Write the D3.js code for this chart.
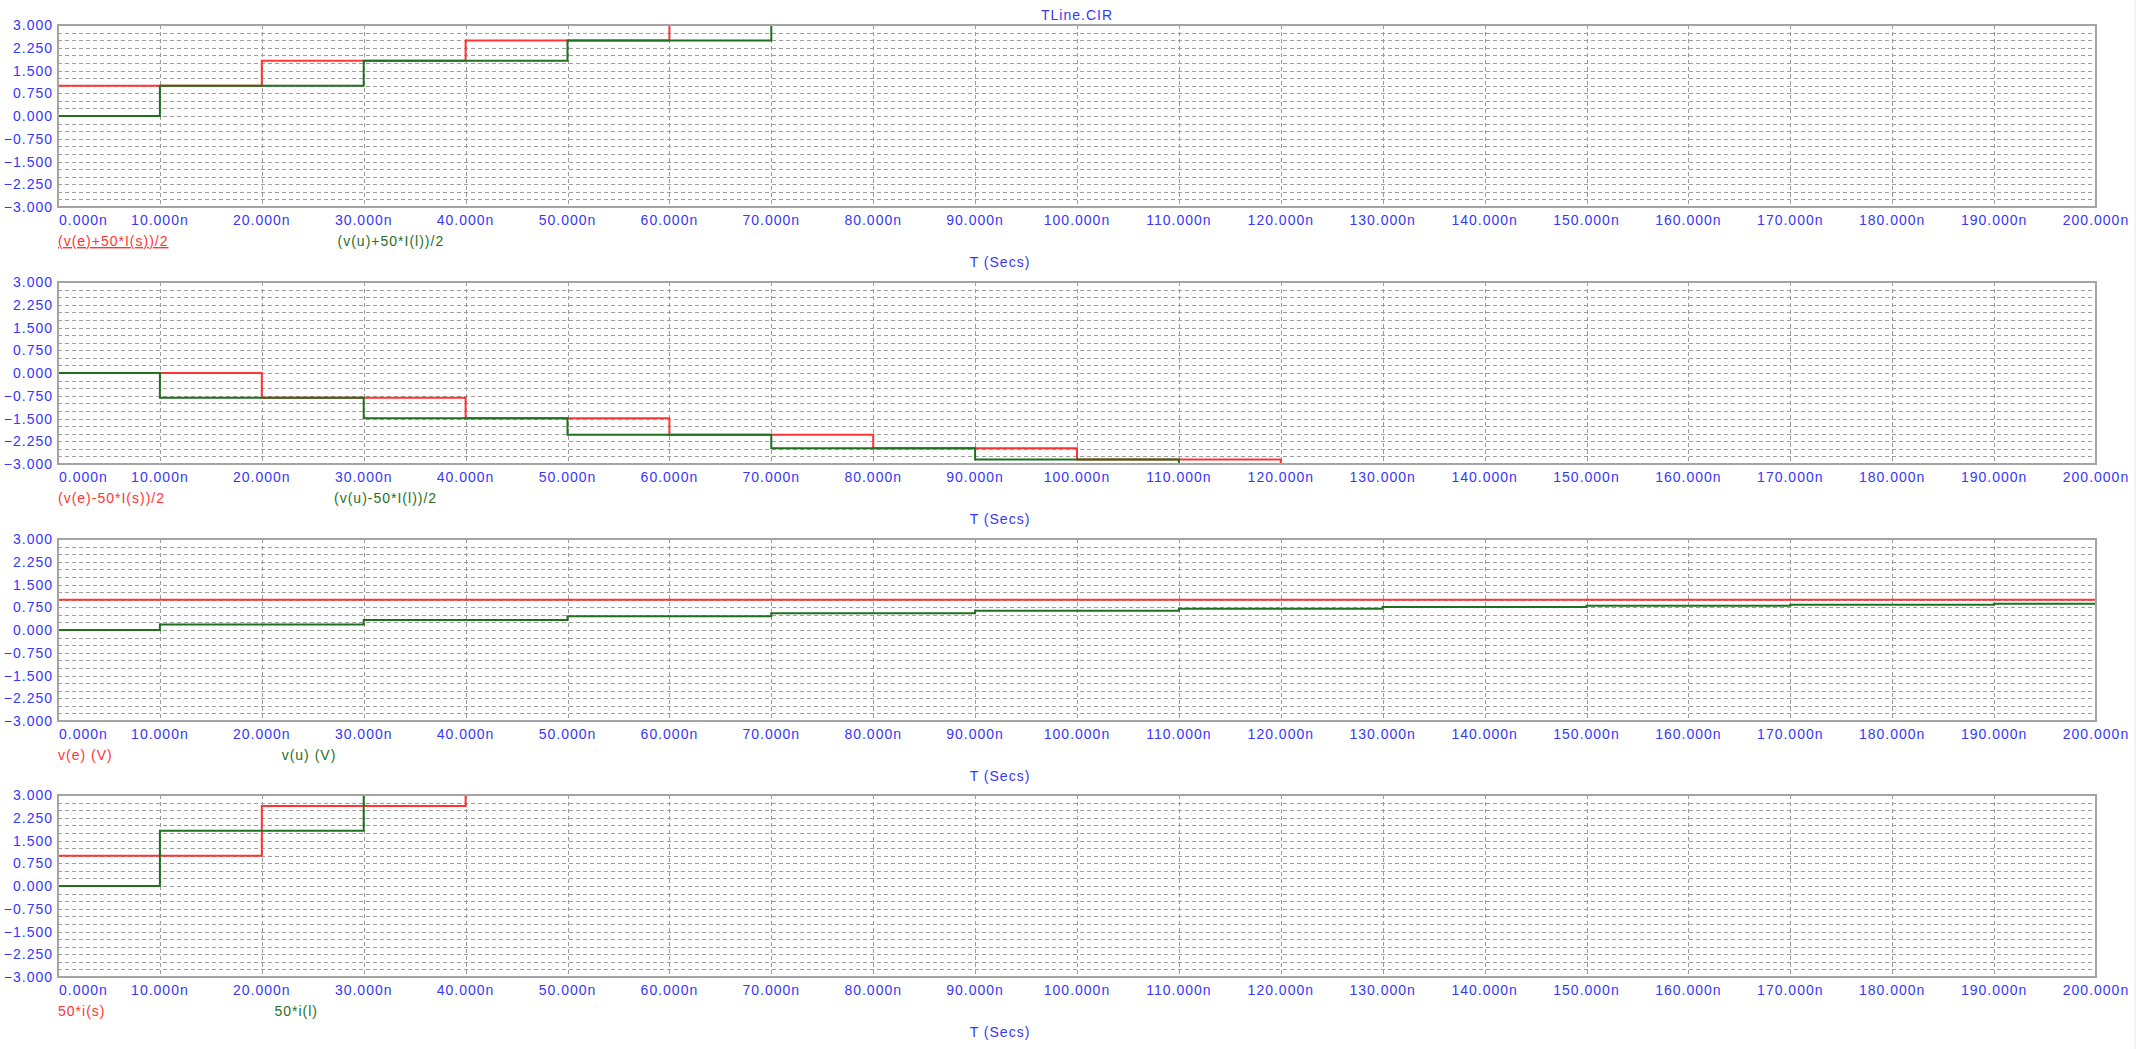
<!DOCTYPE html>
<html>
<head>
<meta charset="utf-8">
<title>TLine.CIR</title>
<script src="https://cdn.jsdelivr.net/npm/d3@7"></script>
<style>
    body { margin: 0; background: #fff; }
    svg text { font-family: "Liberation Sans", Arial, sans-serif; font-size: 14px; letter-spacing: 1px; }
</style>
</head>
<body>
<div id="scope"></div>
<script>

// tick labels
var xTicks = [0, 10, 20, 30, 40, 50, 60, 70, 80, 90, 100, 110, 120, 130, 140, 150, 160, 170, 180, 190, 200];
var yTicks = [3, 2.25, 1.5, 0.75, 0, -0.75, -1.5, -2.25, -3];
var yMinor = [2.75, 2.5, 2.25, 2, 1.75, 1.5, 1.25, 1, 0.75, 0.5, 0.25, 0, -0.25, -0.5, -0.75,
              -1, -1.25, -1.5, -1.75, -2, -2.25, -2.5, -2.75];

// legend names, one pair per plot
var redNames = ["(v(e)+50*I(s))/2", "(v(e)-50*I(s))/2", "v(e) (V)", "50*i(s)"];
var greenNames = ["(v(u)+50*I(l))/2", "(v(u)-50*I(l))/2", "v(u) (V)", "50*i(l)"];

// step curves: time (ns) of each step, level after it
var fwdSourceT = [0, 0, 20, 40, 60, 200];
var fwdSourceV = [0, 1.000, 1.818, 2.488, 3.035, 3.035];
var fwdLoadT = [0, 10, 30, 50, 70, 200];
var fwdLoadV = [0, 1.000, 1.818, 2.488, 3.035, 3.035];

var bwdSourceT = [0, 20, 40, 60, 80, 100, 120, 200];
var bwdSourceV = [0, -0.818, -1.488, -2.035, -2.483, -2.850, -3.150, -3.150];
var bwdLoadT = [0, 10, 30, 50, 70, 90, 110, 200];
var bwdLoadV = [0, -0.818, -1.488, -2.035, -2.483, -2.850, -3.150, -3.150];

var vSourceT = [0, 0, 200];
var vSourceV = [0, 1.000, 1.000];
var vLoadT = [0, 10, 30, 50, 70, 90, 110, 130, 150, 170, 190, 200];
var vLoadV = [0, 0.182, 0.331, 0.452, 0.552, 0.634, 0.701, 0.755, 0.800, 0.836, 0.866, 0.866];

var iSourceT = [0, 0, 20, 40, 200];
var iSourceV = [0, 1.000, 2.636, 3.980, 3.980];
var iLoadT = [0, 10, 30, 200];
var iLoadV = [0, 1.818, 3.306, 3.306];

var redSeries = [[fwdSourceT, fwdSourceV], [bwdSourceT, bwdSourceV], [vSourceT, vSourceV], [iSourceT, iSourceV]];
var greenSeries = [[fwdLoadT, fwdLoadV], [bwdLoadT, bwdLoadV], [vLoadT, vLoadV], [iLoadT, iLoadV]];

var BLUE = "#3636ff", RED = "#ff3434", GREEN = "#1f701f", GRID = "#9c9c9c";

var width = 2140, height = 1049;
var plotLeft = 58, plotRight = 2096, plotHeight = 182;
var plotTops = [25, 282, 539, 795];

var svg = d3.select("#scope").append("svg")
    .attr("width", width)
    .attr("height", height);

// faint window edge on the right
svg.append("line")
    .attr("x1", 2135).attr("x2", 2135)
    .attr("y1", 0).attr("y2", height)
    .attr("stroke", "#e6e6e6");

svg.append("text")
    .attr("x", (plotLeft + plotRight) / 2)
    .attr("y", 20)
    .attr("text-anchor", "middle")
    .attr("fill", BLUE)
    .text("TLine.CIR");

var x = d3.scaleLinear().domain([0, 200]).range([plotLeft, plotRight]);

function zip(t, v) {
    return t.map(function(d, i) { return [d, v[i]]; });
}

plotTops.forEach(function(top, p) {
    var y = d3.scaleLinear().domain([-3, 3]).range([top + plotHeight, top]);
    var g = svg.append("g");

    g.append("clipPath")
        .attr("id", "clip" + p)
        .append("rect")
        .attr("x", plotLeft).attr("y", top)
        .attr("width", plotRight - plotLeft).attr("height", plotHeight);

    // dashed grid
    g.selectAll(".hgrid").data(yMinor).enter().append("line")
        .attr("x1", plotLeft).attr("x2", plotRight)
        .attr("y1", function(d) { return Math.round(y(d)) + 0.5; })
        .attr("y2", function(d) { return Math.round(y(d)) + 0.5; })
        .attr("stroke", GRID)
        .attr("stroke-dasharray", "4,3");

    g.selectAll(".vgrid").data(xTicks.slice(1, -1)).enter().append("line")
        .attr("x1", function(d) { return Math.round(x(d)) + 0.5; })
        .attr("x2", function(d) { return Math.round(x(d)) + 0.5; })
        .attr("y1", top).attr("y2", top + plotHeight)
        .attr("stroke", GRID)
        .attr("stroke-dasharray", "4,3");

    // y labels
    g.selectAll(".ylab").data(yTicks).enter().append("text")
        .attr("x", 53)
        .attr("y", function(d) { return y(d) + 5; })
        .attr("text-anchor", "end")
        .attr("fill", BLUE)
        .text(function(d) { return d3.format(".3f")(d); });

    // x labels
    g.selectAll(".xlab").data(xTicks).enter().append("text")
        .attr("x", function(d) { return d === 0 ? plotLeft + 1 : x(d); })
        .attr("y", top + plotHeight + 18)
        .attr("text-anchor", function(d) { return d === 0 ? "start" : "middle"; })
        .attr("fill", BLUE)
        .text(function(d) { return d3.format(".3f")(d) + "n"; });

    var line = d3.line()
        .x(function(d) { return x(d[0]); })
        .y(function(d) { return y(d[1]); })
        .curve(d3.curveStepAfter);

    var traces = g.append("g").attr("clip-path", "url(#clip" + p + ")");
    traces.append("path")
        .datum(zip(redSeries[p][0], redSeries[p][1]))
        .attr("d", line)
        .attr("fill", "none")
        .attr("stroke", RED)
        .attr("stroke-width", 2);
    traces.append("path")
        .datum(zip(greenSeries[p][0], greenSeries[p][1]))
        .attr("d", line)
        .attr("fill", "none")
        .attr("stroke", GREEN)
        .attr("stroke-width", 2);

    // frame
    g.append("rect")
        .attr("x", plotLeft).attr("y", top)
        .attr("width", plotRight - plotLeft).attr("height", plotHeight)
        .attr("fill", "none")
        .attr("stroke", "#a4a4a4")
        .attr("stroke-width", 2);

    // legend
    var redText = g.append("text")
        .attr("x", plotLeft)
        .attr("y", top + plotHeight + 39)
        .attr("fill", RED)
        .style("text-decoration", p === 0 ? "underline" : "none")
        .text(redNames[p]);
    var redEnd = plotLeft + redText.node().getComputedTextLength();

    g.append("text")
        .attr("x", redEnd + 169)
        .attr("y", top + plotHeight + 39)
        .attr("fill", GREEN)
        .text(greenNames[p]);

    g.append("text")
        .attr("x", 1000)
        .attr("y", top + plotHeight + 60)
        .attr("text-anchor", "middle")
        .attr("fill", BLUE)
        .text("T (Secs)");
});

</script>
</body>
</html>
